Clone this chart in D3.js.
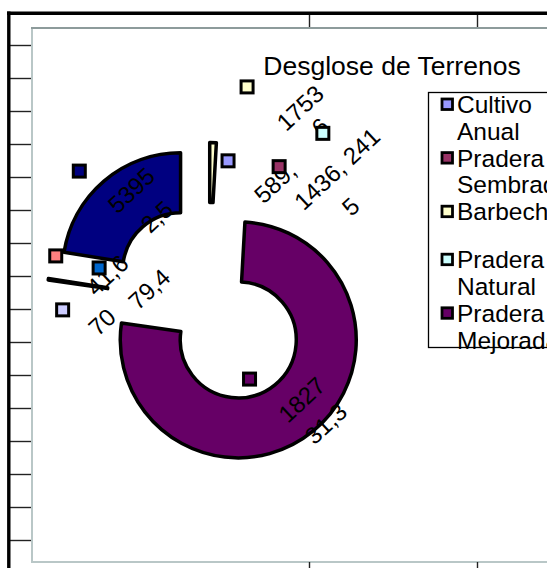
<!DOCTYPE html>
<html>
<head>
<meta charset="utf-8">
<script src="https://cdn.jsdelivr.net/npm/d3@7"></script>
<style>
  body { margin: 0; background: #fff; }
  svg { display: block; font-family: "Liberation Sans", Arial, sans-serif; }
</style>
</head>
<body>
<svg id="chart" width="547" height="568"></svg>
<script>
// ring slices, clockwise from 12 o'clock, share of the ring in %
var sliceNames = ["Barbecho", "Pradera Mejorada", "Pradera Natural", "Cultivo Anual"];
var sliceShares = [0.9, 76.38, 0.22, 22.5];
var sliceColors = ["#FFFFCC", "#660066", "#CCFFFF", "#000080"];

// data labels, as printed on the chart
var labelTexts = ["1753", "6", "589,", "1436, 241", "5", "5395", "2,5", "41,6", "79,4", "70", "1827", "31,3"];

// stray series markers
var markerColors = ["#FFFFCC", "#9999FF", "#993366", "#CCFFFF", "#660066", "#CCCCFF", "#0066CC", "#FF8080", "#000080"];

// legend
var legendNames = ["Cultivo Anual", "Pradera Sembrada", "Barbecho", "Pradera Natural", "Pradera Mejorada"];
var legendColors = ["#9999FF", "#993366", "#FFFFCC", "#CCFFFF", "#660066"];

var chartTitle = "Desglose de Terrenos";

// ---- layout (polar spots around the ring centre: degrees clockwise from north, radius px)
var labelSpots = [[25.1, 216], [32.3, 209], [28.9, 138], [43.7, 186], [55.7, 172], [-34.3, 137],
                  [-30.8, 101], [-74.3, 105], [-76.3, 61], [-99.9, 108], [135.9, 134], [135.7, 168]];
var markerSpots = [[10.1, 220], [7.8, 144], [27.3, 154], [33.9, 205], [151.5, 86], [-92.5, 146],
                   [-72, 115], [-72.7, 160], [-44.3, 185]];
var sliceExplode = [43, 47, 44, 43];

var width = 547, height = 568;
var center = {x: 208.5, y: 303.5};
var outerR = 118, innerR = 58;
var rad = Math.PI / 180;

var svg = d3.select('#chart');

// outer frame with its tick marks
var yFrame = d3.scaleLinear().domain([0, 16]).range([12, 540]);
var xFrame = d3.scaleLinear().domain([0, 2]).range([141, 477]);

svg.append('rect')
    .attr('x', 32).attr('y', 28).attr('width', 600).attr('height', 534)
    .attr('fill', '#fff').attr('stroke', '#b9c7c7').attr('stroke-width', 2);
svg.append('line')
    .attr('x1', 31).attr('x2', width).attr('y1', 28).attr('y2', 28)
    .attr('stroke', '#8d9b9b').attr('stroke-width', 2);

var leftAxis = svg.append('g')
    .attr('transform', 'translate(10,0)')
    .call(d3.axisLeft(yFrame).tickValues(d3.range(1, 17)).tickSize(-21).tickFormat(''));
var topAxis = svg.append('g')
    .attr('transform', 'translate(0,15)')
    .call(d3.axisTop(xFrame).tickValues([1, 2]).tickSize(-12).tickFormat(''));
var bottomAxis = svg.append('g')
    .attr('transform', 'translate(0,562)')
    .call(d3.axisBottom(xFrame).tickValues([1, 2]).tickSize(8).tickFormat(''));
[leftAxis, topAxis, bottomAxis].forEach(function(g) {
    g.select('.domain').remove();
    g.selectAll('.tick line').attr('stroke', '#222').attr('stroke-width', 1.4);
});

svg.append('line')
    .attr('x1', 8.8).attr('x2', 8.8).attr('y1', 11.6).attr('y2', height)
    .attr('stroke', '#000').attr('stroke-width', 3.4);
svg.append('line')
    .attr('x1', 7).attr('x2', width).attr('y1', 13.3).attr('y2', 13.3)
    .attr('stroke', '#000').attr('stroke-width', 3.4);

// exploded doughnut
var pie = d3.pie().sort(null).value(function(d) { return d; });
var arc = d3.arc().innerRadius(innerR).outerRadius(outerR);

svg.append('g').selectAll('path')
    .data(pie(sliceShares))
    .join('path')
    .attr('transform', function(d, i) {
        var p = d3.pointRadial((d.startAngle + d.endAngle) / 2, sliceExplode[i]);
        return 'translate(' + (center.x + p[0]) + ',' + (center.y + p[1]) + ')';
    })
    .attr('d', arc)
    .attr('fill', function(d, i) { return sliceColors[i]; })
    .attr('stroke', '#000')
    .attr('stroke-width', 3.5)
    .attr('stroke-linejoin', 'round');

function spot(s) {
    var p = d3.pointRadial(s[0] * rad, s[1]);
    return [center.x + p[0], center.y + p[1]];
}

// data labels
svg.append('g').selectAll('text')
    .data(labelTexts)
    .join('text')
    .attr('transform', function(d, i) {
        var p = spot(labelSpots[i]);
        return 'translate(' + p[0] + ',' + p[1] + ') rotate(-43)';
    })
    .attr('text-anchor', 'middle')
    .attr('dy', '0.35em')
    .attr('font-size', 24)
    .attr('fill', '#000')
    .text(function(d) { return d; });

// markers
svg.append('g').selectAll('rect')
    .data(markerColors)
    .join('rect')
    .attr('x', function(d, i) { return spot(markerSpots[i])[0] - 6; })
    .attr('y', function(d, i) { return spot(markerSpots[i])[1] - 6; })
    .attr('width', 12).attr('height', 12)
    .attr('fill', function(d) { return d; })
    .attr('stroke', '#000').attr('stroke-width', 3);

// title
svg.append('text')
    .attr('x', 392).attr('y', 75)
    .attr('text-anchor', 'middle')
    .attr('font-size', 26.5)
    .text(chartTitle);

// legend
var legend = svg.append('g').attr('transform', 'translate(428.5,92.5)');
legend.append('rect')
    .attr('width', 200).attr('height', 255)
    .attr('fill', '#fff').attr('stroke', '#000').attr('stroke-width', 1.3);

var lineH = 26.8;
var rowY = 20.5;
legendNames.forEach(function(name, i) {
    var words = name.split(' ');
    var item = legend.append('g').attr('transform', 'translate(0,' + rowY + ')');
    item.append('rect')
        .attr('x', 13.5).attr('y', -14).attr('width', 10.5).attr('height', 10.5)
        .attr('fill', legendColors[i]).attr('stroke', '#000').attr('stroke-width', 2.8);
    item.append('text')
        .attr('x', 28.5)
        .attr('font-size', 24.5)
        .selectAll('tspan')
        .data(words)
        .join('tspan')
        .attr('x', 28.5)
        .attr('y', function(d, j) { return j * lineH; })
        .text(function(d) { return d; });
    rowY += words.length > 1 ? 2 * lineH : 48;
});
</script>
</body>
</html>
